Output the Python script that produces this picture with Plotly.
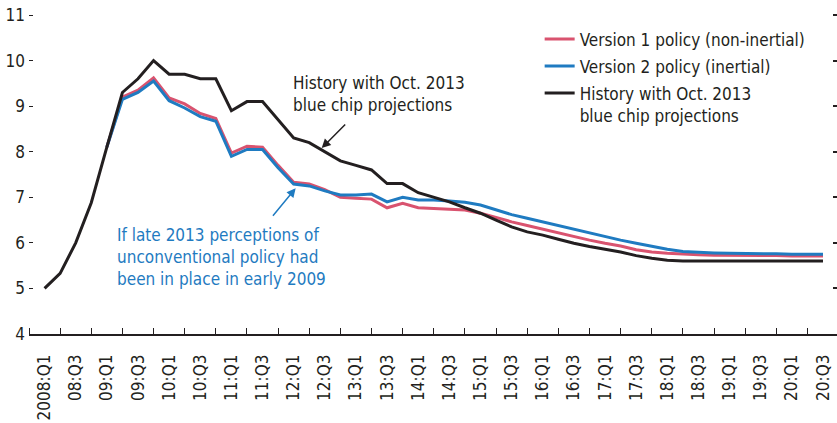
"""Unemployment paths under alternative policy perceptions (quarterly, 2008:Q1-2020:Q3)."""

import plotly.graph_objects as go

FONT = "DejaVu Sans Condensed, Liberation Sans Narrow, Arial Narrow, sans-serif"
RED = "#d9536f"
BLUE = "#1f7bc1"
BLACK = "#231f20"

# Quarter index 0 = 2008:Q1 ... 50 = 2020:Q3
quarter_index = list(range(51))

tick_labels = [
    "2008:Q1", "08:Q3", "09:Q1", "09:Q3", "10:Q1", "10:Q3", "11:Q1", "11:Q3",
    "12:Q1", "12:Q3", "13:Q1", "13:Q3", "14:Q1", "14:Q3", "15:Q1", "15:Q3",
    "16:Q1", "16:Q3", "17:Q1", "17:Q3", "18:Q1", "18:Q3", "19:Q1", "19:Q3",
    "20:Q1", "20:Q3",
]

history = [
    5.0, 5.33, 6.0, 6.88, 8.1, 9.3, 9.6, 10.0, 9.7, 9.7,
    9.6, 9.6, 8.9, 9.1, 9.1, 8.7, 8.3, 8.2, 8.0, 7.8,
    7.7, 7.6, 7.3, 7.3, 7.1, 7.0, 6.9, 6.77, 6.65, 6.5,
    6.35, 6.24, 6.17, 6.08, 5.99, 5.92, 5.86, 5.8, 5.72, 5.66,
    5.62, 5.6, 5.6, 5.6, 5.6, 5.6, 5.6, 5.6, 5.6, 5.6, 5.6,
]

version2 = [
    None, None, None, None, 8.1, 9.15, 9.3, 9.55, 9.12, 8.96,
    8.77, 8.67, 7.9, 8.05, 8.05, 7.65, 7.29, 7.25, 7.14, 7.05,
    7.05, 7.07, 6.9, 7.0, 6.94, 6.94, 6.92, 6.89, 6.83, 6.73,
    6.62, 6.54, 6.46, 6.38, 6.29, 6.21, 6.13, 6.06, 5.99, 5.92,
    5.86, 5.81, 5.79, 5.78, 5.77, 5.77, 5.76, 5.76, 5.75, 5.75, 5.75,
]

version1 = [
    None, None, None, None, 8.1, 9.2, 9.35, 9.62, 9.18, 9.05,
    8.84, 8.73, 7.97, 8.12, 8.1, 7.7, 7.33, 7.29, 7.17, 7.0,
    6.98, 6.96, 6.77, 6.87, 6.77, 6.76, 6.74, 6.72, 6.65, 6.56,
    6.46, 6.38, 6.3, 6.22, 6.13, 6.06, 5.99, 5.93, 5.85, 5.8,
    5.77, 5.75, 5.74, 5.73, 5.73, 5.72, 5.72, 5.72, 5.71, 5.71, 5.71,
]

y_range = [4, 11.11]

fig = go.Figure()

fig.add_trace(go.Scatter(
    x=quarter_index, y=version1, mode="lines",
    name="Version 1 policy (non-inertial)", legendgroup="v1",
    line=dict(color=RED, width=3),
))
fig.add_trace(go.Scatter(
    x=quarter_index, y=version2, mode="lines",
    name="Version 2 policy (inertial)", legendgroup="v2",
    line=dict(color=BLUE, width=3),
))
fig.add_trace(go.Scatter(
    x=quarter_index, y=history, mode="lines",
    name="History with Oct. 2013<br>blue chip projections", legendgroup="hist",
    line=dict(color=BLACK, width=3),
))
# invisible copy so the right-hand tick axis gets drawn
fig.add_trace(go.Scatter(
    x=quarter_index, y=history, yaxis="y2", mode="lines",
    line=dict(width=0), opacity=0, showlegend=False, hoverinfo="skip",
))

# Callouts
fig.add_annotation(
    x=15.85, y=9.26, xanchor="left", yanchor="middle", align="left",
    text="History with Oct. 2013<br>blue chip projections",
    showarrow=False, font=dict(color=BLACK, size=17),
)
fig.add_annotation(
    x=17.8, y=8.08, ax=25, ay=-25, text="", showarrow=True,
    arrowhead=2, arrowsize=1.2, arrowwidth=1.5, arrowcolor=BLACK,
)
fig.add_annotation(
    x=4.5, y=5.7, xanchor="left", yanchor="middle", align="left",
    text="If late 2013 perceptions of<br>unconventional policy had<br>been in place in early 2009",
    showarrow=False, font=dict(color=BLUE, size=17),
)
fig.add_annotation(
    x=16.13, y=7.2, ax=-24, ay=29, text="", showarrow=True,
    arrowhead=2, arrowsize=1.2, arrowwidth=1.5, arrowcolor=BLUE,
)

fig.update_layout(
    width=837, height=423,
    margin=dict(l=29, r=0, t=10, b=89, autoexpand=False),
    paper_bgcolor="white", plot_bgcolor="white",
    font=dict(family=FONT, size=17, color=BLACK),
    showlegend=True,
    legend=dict(
        x=0.632, y=0.965, xanchor="left", yanchor="top",
        bgcolor="rgba(0,0,0,0)", valign="top",
        font=dict(size=17), tracegroupgap=2,
    ),
    xaxis=dict(
        range=[-1, 50.9], showgrid=False, zeroline=False,
        showline=True, linecolor=BLACK, linewidth=1.5,
        tickmode="array",
        tickvals=quarter_index[::2], ticktext=tick_labels,
        tickangle=-90, ticks="", ticklabelstandoff=12,
        minor=dict(tick0=-1, dtick=2, ticks="inside", ticklen=6,
                   tickcolor=BLACK, tickwidth=1.2, showgrid=False),
    ),
    yaxis=dict(
        range=y_range, showgrid=False, zeroline=False, showline=False,
        tickmode="linear", tick0=4, dtick=1,
        ticks="inside", ticklen=4, tickcolor=BLACK, tickwidth=1,
        ticklabeloverflow="allow", ticklabelstandoff=3,
    ),
    # right-hand tick marks only
    yaxis2=dict(
        overlaying="y", side="right", range=y_range,
        showgrid=False, zeroline=False, showline=False,
        tickmode="linear", tick0=4, dtick=1, showticklabels=False,
        ticks="inside", ticklen=4, tickcolor=BLACK, tickwidth=1.5,
    ),
)

# drop the default 8px body margin so the 837x423 figure fills the window
fig.write_html(
    "out.html",
    config={"displayModeBar": False},
    post_script="document.body.style.margin = '0';",
)
